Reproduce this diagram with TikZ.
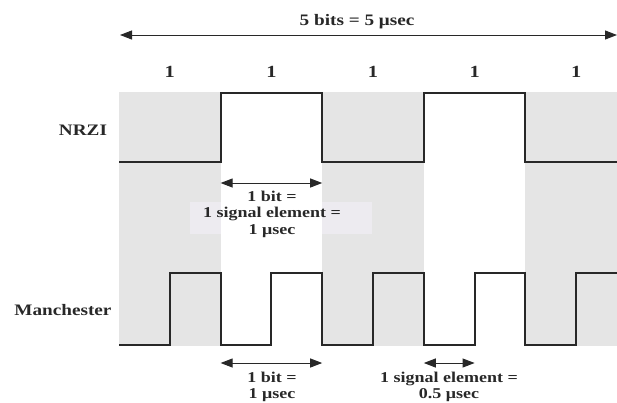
\documentclass[tikz,border=0pt]{standalone}
\usepackage{fontspec}
\setmainfont{Liberation Serif}[FakeStretch=1.2]
\usetikzlibrary{arrows.meta}
\definecolor{band}{RGB}{229,229,229}
\definecolor{sig}{RGB}{40,40,40}
\definecolor{haze}{RGB}{237,235,240}
\begin{document}
\begin{tikzpicture}[x=1pt,y=-1pt,
  wave/.style={draw=sig, line width=2pt, line join=miter},
  dim/.style={draw=sig, line width=1pt,
    {Triangle[length=12pt,width=9pt]}-{Triangle[length=12pt,width=9pt]}},
  lbl/.style={font=\bfseries\fontsize{15}{16.5}\selectfont, align=center,
    inner sep=0pt, text=sig},
  bitlbl/.style={font=\bfseries\fontsize{17}{18}\selectfont, inner sep=0pt, text=sig},
  rowlbl/.style={font=\bfseries\fontsize{16}{18}\selectfont, inner sep=0pt, text=sig}]
\useasboundingbox (0,0) rectangle (617,402);

% shaded bit periods
\fill[band] (119,92) rectangle (220.6,346);
\fill[band] (322.2,92) rectangle (423.8,346);
\fill[band] (525.4,92) rectangle (617,346);
% lighter patch behind the middle label, where it crosses the bands
\fill[haze] (190,202) rectangle (220.6,234);
\fill[haze] (322.2,202) rectangle (372,234);

% overall duration
\coordinate (tl) at (120,35);
\coordinate (tr) at (617,35);
\draw[dim] (tl) -- (tr);
\node[rowlbl] (total) at (357,22) {5 bits = 5 μsec};

% bit values
\foreach \x [count=\i] in {169.8,271.4,373,474.6,576.2}
  \node[bitlbl] (b\i) at (\x,72) {1};

% row titles
\node[rowlbl] (nrzi) at (83,130) {NRZI};
\node[rowlbl] (manch) at (63,310) {Manchester};

% NRZI waveform
\draw[wave] (119,162) -- (220.6,162) -- (220.6,93) -- (322.2,93) -- (322.2,162)
  -- (423.8,162) -- (423.8,93) -- (525.4,93) -- (525.4,162) -- (617,162);

% Manchester waveform
\draw[wave] (119,345) -- (169.8,345) -- (169.8,273) -- (220.6,273) -- (220.6,345)
  -- (271.4,345) -- (271.4,273) -- (322.2,273) -- (322.2,345)
  -- (373,345) -- (373,273) -- (423.8,273) -- (423.8,345)
  -- (474.6,345) -- (474.6,273) -- (525.4,273) -- (525.4,345)
  -- (576.2,345) -- (576.2,273) -- (617,273);

% NRZI bit width
\coordinate (na) at (220.6,183);
\coordinate (nb) at (322.2,183);
\draw[dim] (na) -- (nb);
\node[lbl] (nlab) at (272,214) {1 bit =\\1 signal element =\\1 μsec};

% Manchester bit width
\coordinate (ma) at (220.6,363);
\coordinate (mb) at (322.2,363);
\draw[dim] (ma) -- (mb);
\node[lbl] (mlab) at (272,387) {1 bit =\\1 μsec};

% Manchester signal element width
\coordinate (sa) at (423.8,363);
\coordinate (sb) at (474.6,363);
\draw[dim] (sa) -- (sb);
\node[lbl] (slab) at (449,387) {1 signal element =\\0.5 μsec};
\end{tikzpicture}
\end{document}
